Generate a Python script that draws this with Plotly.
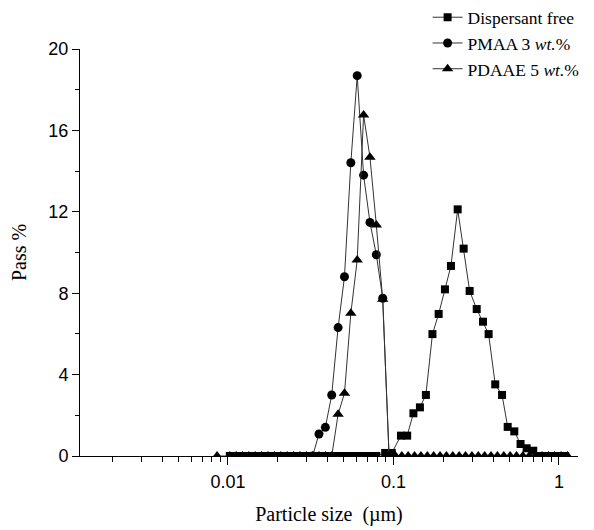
import plotly.graph_objects as go

# ---- data ----
free_x = [0.01026, 0.01121, 0.01225, 0.01338, 0.01462, 0.01598, 0.01746, 0.01908, 0.02084, 0.02278,
          0.02489, 0.02719, 0.02972, 0.03247, 0.03548, 0.03877, 0.04236, 0.04629, 0.05058, 0.05527,
          0.06039, 0.06599, 0.07211, 0.07879,
          0.0891, 0.0977, 0.111, 0.121, 0.132, 0.1445, 0.157, 0.172, 0.1875, 0.2047, 0.2225, 0.2443,
          0.2655, 0.2886, 0.3184, 0.3475, 0.3758, 0.412, 0.453, 0.490, 0.537, 0.586, 0.638, 0.699,
          0.764, 0.835, 0.913, 0.998, 1.09]
free_y = [0, 0, 0, 0, 0, 0, 0, 0, 0, 0,
          0, 0, 0, 0, 0, 0, 0, 0, 0, 0,
          0, 0, 0, 0,
          0.15, 0.15, 1.0, 1.0, 2.1, 2.39, 3.0, 5.99, 6.98, 8.19, 9.34, 12.12,
          10.19, 8.11, 7.22, 6.6, 5.99, 3.52, 3.0, 1.43, 1.21, 0.59, 0.38, 0.26,
          0, 0, 0, 0, 0]

pmaa_x = [0.03247, 0.03548, 0.03877, 0.04236, 0.04629, 0.05058, 0.05527, 0.06039, 0.06599,
          0.07211, 0.07879, 0.08610, 0.09408]
pmaa_y = [0, 1.08, 1.41, 3.0, 6.31, 8.81, 14.41, 18.69, 13.8, 11.48, 9.89, 7.75, 0]

pdaae_x = [0.00859, 0.01026, 0.01121, 0.01225, 0.01338, 0.01462, 0.01598, 0.01746, 0.01908, 0.02084,
           0.02278, 0.02489, 0.02719, 0.02972, 0.03247, 0.03548, 0.03877, 0.04236, 0.04629, 0.05058,
           0.05527, 0.06039, 0.06599, 0.07211, 0.07879, 0.08610, 0.09408, 0.1028, 0.1123, 0.1227,
           0.1341, 0.1466, 0.1602, 0.1750, 0.1912, 0.2089, 0.2283, 0.2495, 0.2726, 0.2979,
           0.3255, 0.3556, 0.3886, 0.4246, 0.4640, 0.5070, 0.5540, 0.6053, 0.6615, 0.7228,
           0.7898, 0.8630, 0.9430, 1.030, 1.126]
pdaae_y = [0, 0, 0, 0, 0, 0, 0, 0, 0, 0,
           0, 0, 0, 0, 0, 0, 0, 0, 2.05, 3.08,
           7.01, 9.63, 16.76, 14.68, 11.35, 7.70, 0, 0, 0, 0,
           0, 0, 0, 0, 0, 0, 0, 0, 0, 0,
           0, 0, 0, 0, 0, 0, 0, 0, 0, 0,
           0, 0, 0, 0, 0]

x_tickvals = [0.01, 0.1, 1]
x_ticktext = ["0.01", "0.1", "1"]
y_tickvals = [0, 4, 8, 12, 16, 20]

LINE = dict(color="#333333", width=1)

fig = go.Figure()
fig.add_trace(go.Scatter(x=free_x, y=free_y, mode="lines+markers", name="Dispersant free",
                         line=LINE, marker=dict(symbol="square", size=8, color="black"),
                         cliponaxis=True))
fig.add_trace(go.Scatter(x=pmaa_x, y=pmaa_y, mode="lines+markers", name="PMAA 3 <i>wt.</i>%",
                         line=LINE, marker=dict(symbol="circle", size=9, color="black"),
                         cliponaxis=True))
fig.add_trace(go.Scatter(x=pdaae_x, y=pdaae_y, mode="lines+markers", name="PDAAE 5 <i>wt.</i>%",
                         line=LINE, marker=dict(symbol="triangle-up", size=10, color="black"),
                         cliponaxis=True))

# the page body has an 8px margin, so the figure is drawn 8px right and down
fig.update_layout(
    width=586, height=522,
    margin=dict(l=72, r=16, t=41, b=74, autoexpand=False),
    paper_bgcolor="white", plot_bgcolor="white",
    showlegend=True,
    legend=dict(x=0.698, y=1.122, xanchor="left", yanchor="top",
                font=dict(family="Liberation Serif", size=17.5, color="black"),
                bgcolor="rgba(0,0,0,0)", tracegroupgap=0),
    font=dict(family="Liberation Sans", size=18, color="black"),
)
fig.update_xaxes(
    type="log", range=[-2.894, 0.115],
    tickvals=x_tickvals, ticktext=x_ticktext,
    ticks="outside", ticklen=8, tickwidth=1, tickcolor="black",
    showline=True, linecolor="black", linewidth=1, showgrid=False, zeroline=False,
    minor=dict(ticks="outside", ticklen=5, tickcolor="black", dtick="D1", showgrid=False),
    tickfont=dict(family="Liberation Sans", size=18),
    ticklabelstandoff=1,
    title=dict(text="Particle size  (µm)", font=dict(family="Liberation Serif", size=20), standoff=16),
)
fig.update_yaxes(
    range=[0, 20], tickvals=y_tickvals,
    ticks="outside", ticklen=7, tickwidth=1, tickcolor="black",
    showline=True, linecolor="black", linewidth=1, showgrid=False, zeroline=False,
    minor=dict(ticks="outside", ticklen=4, tickcolor="black", dtick=2, showgrid=False),
    tickfont=dict(family="Liberation Sans", size=18),
    title=dict(text="Pass %", font=dict(family="Liberation Serif", size=20), standoff=22),
)

fig.write_html("out.html")
